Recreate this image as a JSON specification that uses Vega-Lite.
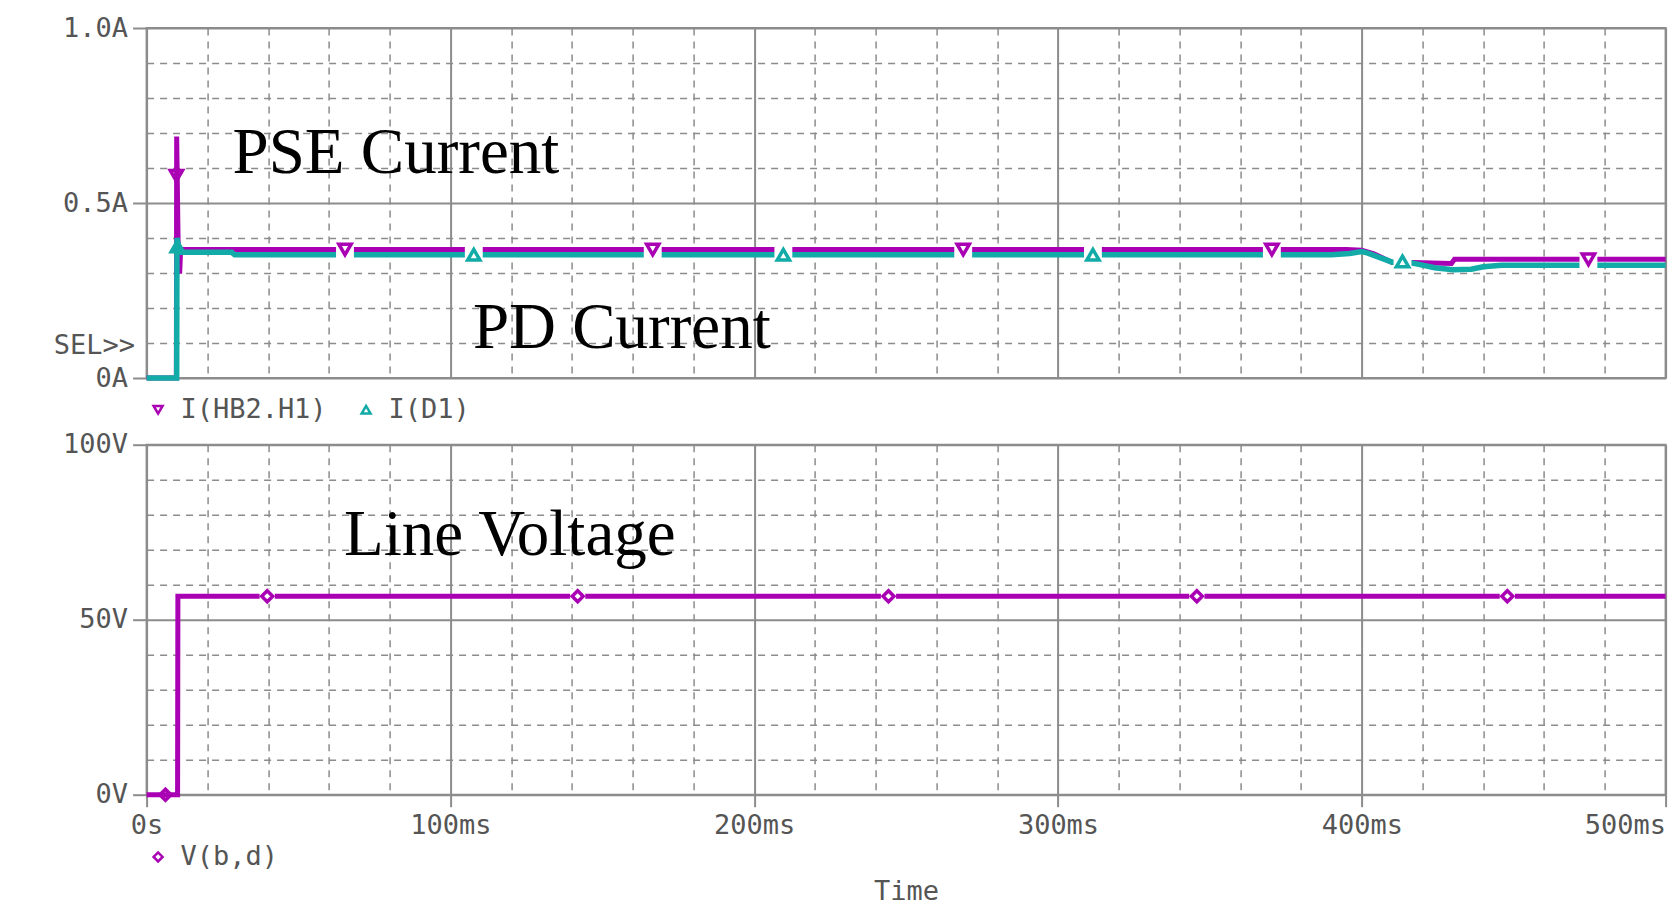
{
  "$schema": "https://vega.github.io/schema/vega-lite/v6.json",
  "background": "white",
  "autosize": {"type": "pad"},
  "padding": {"left": 51.6, "top": 13, "right": 5, "bottom": 5},
  "spacing": 66.7,
  "bounds": "flush",
  "resolve": {"scale": {"color": "independent", "shape": "independent"}},
  "config": {
    "view": {"stroke": "#8c8c8c", "strokeWidth": 2},
    "axis": {
      "labelFont": "DejaVu Sans Mono",
      "labelFontSize": 27,
      "labelColor": "#555555",
      "titleFont": "DejaVu Sans Mono",
      "titleFontSize": 27,
      "titleFontWeight": "normal",
      "titleColor": "#555555",
      "tickColor": "#8c8c8c",
      "tickWidth": 2,
      "labelOverlap": false
    },
    "legend": {
      "labelFont": "DejaVu Sans Mono",
      "labelFontSize": 27,
      "labelColor": "#555555"
    }
  },
  "datasets": {
    "pse": [
      {"t": 0, "i": 0}, {"t": 9.8, "i": 0}, {"t": 9.9, "i": 0.69}, {"t": 10.5, "i": 0.305},
      {"t": 10.9, "i": 0.305}, {"t": 11.2, "i": 0.367}, {"t": 395, "i": 0.367}, {"t": 400, "i": 0.365},
      {"t": 404, "i": 0.355}, {"t": 410, "i": 0.33}, {"t": 417, "i": 0.33}, {"t": 429.5, "i": 0.327},
      {"t": 430.5, "i": 0.339}, {"t": 500, "i": 0.339}
    ],
    "pd": [
      {"t": 0, "i": 0}, {"t": 9.9, "i": 0}, {"t": 10, "i": 0.4}, {"t": 10.8, "i": 0.36},
      {"t": 28, "i": 0.359}, {"t": 29, "i": 0.352}, {"t": 390, "i": 0.352}, {"t": 396, "i": 0.356},
      {"t": 400, "i": 0.361}, {"t": 402, "i": 0.357}, {"t": 410, "i": 0.331}, {"t": 414, "i": 0.333},
      {"t": 418, "i": 0.326}, {"t": 424, "i": 0.315}, {"t": 430, "i": 0.309}, {"t": 436, "i": 0.311},
      {"t": 440, "i": 0.318}, {"t": 446, "i": 0.322}, {"t": 500, "i": 0.322}
    ],
    "topMarks": [
      {"t": 9.8, "i": 0.578, "s": "I(HB2.H1)"},
      {"t": 65.3, "i": 0.367, "s": "I(HB2.H1)"},
      {"t": 166.6, "i": 0.367, "s": "I(HB2.H1)"},
      {"t": 268.8, "i": 0.367, "s": "I(HB2.H1)"},
      {"t": 370.4, "i": 0.367, "s": "I(HB2.H1)"},
      {"t": 474.6, "i": 0.339, "s": "I(HB2.H1)"},
      {"t": 10.1, "i": 0.376, "s": "I(D1)"},
      {"t": 107.7, "i": 0.352, "s": "I(D1)"},
      {"t": 209.6, "i": 0.352, "s": "I(D1)"},
      {"t": 311.5, "i": 0.352, "s": "I(D1)"},
      {"t": 413.4, "i": 0.333, "s": "I(D1)"}
    ],
    "topNotes": [
      {"t": 28.3, "i": 0.587, "label": "PSE Current"},
      {"t": 107.4, "i": 0.087, "label": "PD Current"}
    ],
    "vbd": [
      {"t": 0, "v": 0}, {"t": 10.2, "v": 0}, {"t": 10.3, "v": 56.7}, {"t": 500, "v": 56.7}
    ],
    "vMarks": [
      {"t": 6.2, "v": 0, "s": "V(b,d)"},
      {"t": 39.7, "v": 56.7, "s": "V(b,d)"},
      {"t": 141.9, "v": 56.7, "s": "V(b,d)"},
      {"t": 244.2, "v": 56.7, "s": "V(b,d)"},
      {"t": 345.7, "v": 56.7, "s": "V(b,d)"},
      {"t": 447.9, "v": 56.7, "s": "V(b,d)"}
    ],
    "bottomNotes": [
      {"t": 65, "v": 68.5, "label": "Line Voltage"}
    ]
  },
  "vconcat": [
    {
      "width": 1519,
      "height": 350,
      "layer": [
        {
          "data": {"name": "pse"},
          "mark": {"type": "line", "color": "#AA00B4", "strokeWidth": 5},
          "encoding": {
            "x": {
              "field": "t", "type": "quantitative",
              "scale": {"domain": [0, 500], "nice": false},
              "axis": {
                "values": [0,20,40,60,80,100,120,140,160,180,200,220,240,260,280,300,320,340,360,380,400,420,440,460,480,500],
                "tickCount": 30,
                "labels": false, "ticks": false, "domain": false, "title": null, "grid": true,
                "gridColor": "#8c8c8c",
                "gridDash": {"condition": {"test": "datum.value % 100 === 0", "value": []}, "value": [7, 6]},
                "gridWidth": {"condition": {"test": "datum.value % 100 === 0", "value": 2}, "value": 1.5}
              }
            },
            "y": {
              "field": "i", "type": "quantitative",
              "scale": {"domain": [0, 1], "nice": false},
              "axis": {
                "values": [0,0.1,0.2,0.3,0.4,0.5,0.6,0.7,0.8,0.9,1],
                "tickCount": 12,
                "domain": false, "grid": true,
                "gridColor": "#8c8c8c",
                "gridDash": {"condition": {"test": "datum.value == 0 || datum.value == 0.5 || datum.value == 1", "value": []}, "value": [7, 6]},
                "gridWidth": {"condition": {"test": "datum.value == 0 || datum.value == 0.5 || datum.value == 1", "value": 2}, "value": 1.5},
                "tickSize": {"condition": {"test": "datum.value == 0 || datum.value == 0.5 || datum.value == 1", "value": 14}, "value": 0},
                "labelPadding": 5,
                "labelExpr": "datum.value == 0 ? '0A' : datum.value == 0.5 ? '0.5A' : datum.value == 1 ? '1.0A' : ''",
                "title": "SEL>>", "titleAngle": 0, "titleAlign": "right", "titleBaseline": "middle",
                "titleX": -12, "titleY": 317
              }
            }
          }
        },
        {
          "data": {"name": "pd"},
          "mark": {"type": "line", "color": "#12ABA8", "strokeWidth": 5.5},
          "encoding": {
            "x": {"field": "t", "type": "quantitative"},
            "y": {"field": "i", "type": "quantitative"}
          }
        },
        {
          "data": {"name": "topMarks"},
          "transform": [{"filter": "datum.t > 20"}],
          "mark": {"type": "point", "shape": "square", "filled": true, "color": "white", "size": 320, "opacity": 1},
          "encoding": {
            "x": {"field": "t", "type": "quantitative"},
            "y": {"field": "i", "type": "quantitative"}
          }
        },
        {
          "data": {"name": "topMarks"},
          "mark": {"type": "point", "filled": false, "strokeWidth": 3.5, "size": 150, "opacity": 1},
          "encoding": {
            "x": {"field": "t", "type": "quantitative"},
            "y": {"field": "i", "type": "quantitative"},
            "color": {
              "field": "s", "type": "nominal",
              "scale": {"domain": ["I(HB2.H1)", "I(D1)"], "range": ["#AA00B4", "#12ABA8"]},
              "legend": {"title": null, "orient": "none", "legendX": -2, "legendY": 368, "direction": "horizontal",
                "symbolSize": 80, "symbolStrokeWidth": 2.5, "labelOffset": 8.8, "columnPadding": 25, "padding": 0}
            },
            "shape": {
              "field": "s", "type": "nominal",
              "scale": {"domain": ["I(HB2.H1)", "I(D1)"], "range": ["triangle-down", "triangle-up"]},
              "legend": {"title": null, "orient": "none", "legendX": -2, "legendY": 368, "direction": "horizontal",
                "symbolSize": 80, "symbolStrokeWidth": 2.5, "labelOffset": 8.8, "columnPadding": 25, "padding": 0}
            }
          }
        },
        {
          "data": {"name": "topNotes"},
          "mark": {"type": "text", "font": "Liberation Serif", "fontSize": 65, "align": "left", "baseline": "alphabetic", "color": "black"},
          "encoding": {
            "x": {"field": "t", "type": "quantitative"},
            "y": {"field": "i", "type": "quantitative"},
            "text": {"field": "label"}
          }
        }
      ]
    },
    {
      "width": 1519,
      "height": 350,
      "layer": [
        {
          "data": {"name": "vbd"},
          "mark": {"type": "line", "color": "#AA00B4", "strokeWidth": 5},
          "encoding": {
            "x": {
              "field": "t", "type": "quantitative",
              "scale": {"domain": [0, 500], "nice": false},
              "axis": {
                "values": [0,20,40,60,80,100,120,140,160,180,200,220,240,260,280,300,320,340,360,380,400,420,440,460,480,500],
                "tickCount": 30,
                "domain": false, "grid": true,
                "gridColor": "#8c8c8c",
                "gridDash": {"condition": {"test": "datum.value % 100 === 0", "value": []}, "value": [7, 6]},
                "gridWidth": {"condition": {"test": "datum.value % 100 === 0", "value": 2}, "value": 1.5},
                "tickSize": {"condition": {"test": "datum.value % 100 === 0", "value": 12}, "value": 0},
                "labelExpr": "datum.value == 0 ? '0s' : datum.value % 100 == 0 ? datum.value + 'ms' : ''",
                "labelFlush": false,
                "labelAlign": {"condition": {"test": "datum.value == 500", "value": "right"}, "value": "center"},
                "labelPadding": 6,
                "title": "Time", "titlePadding": 40
              }
            },
            "y": {
              "field": "v", "type": "quantitative",
              "scale": {"domain": [0, 100], "nice": false},
              "axis": {
                "values": [0,10,20,30,40,50,60,70,80,90,100],
                "tickCount": 12,
                "domain": false, "grid": true,
                "gridColor": "#8c8c8c",
                "gridDash": {"condition": {"test": "datum.value == 0 || datum.value == 50 || datum.value == 100", "value": []}, "value": [7, 6]},
                "gridWidth": {"condition": {"test": "datum.value == 0 || datum.value == 50 || datum.value == 100", "value": 2}, "value": 1.5},
                "tickSize": {"condition": {"test": "datum.value == 0 || datum.value == 50 || datum.value == 100", "value": 14}, "value": 0},
                "labelPadding": 5,
                "labelExpr": "datum.value == 0 ? '0V' : datum.value == 50 ? '50V' : datum.value == 100 ? '100V' : ''",
                "title": null
              }
            }
          }
        },
        {
          "data": {"name": "vMarks"},
          "transform": [{"filter": "datum.t > 20"}],
          "mark": {"type": "point", "shape": "square", "filled": true, "color": "white", "size": 230, "opacity": 1},
          "encoding": {
            "x": {"field": "t", "type": "quantitative"},
            "y": {"field": "v", "type": "quantitative"}
          }
        },
        {
          "data": {"name": "vMarks"},
          "mark": {"type": "point", "filled": false, "strokeWidth": 3.5, "size": 120, "opacity": 1},
          "encoding": {
            "x": {"field": "t", "type": "quantitative"},
            "y": {"field": "v", "type": "quantitative"},
            "color": {
              "field": "s", "type": "nominal",
              "scale": {"domain": ["V(b,d)"], "range": ["#AA00B4"]},
              "legend": {"title": null, "orient": "none", "legendX": -2, "legendY": 398.7, "direction": "horizontal",
                "symbolSize": 80, "symbolStrokeWidth": 2.5, "labelOffset": 8.8, "padding": 0}
            },
            "shape": {
              "field": "s", "type": "nominal",
              "scale": {"domain": ["V(b,d)"], "range": ["diamond"]},
              "legend": {"title": null, "orient": "none", "legendX": -2, "legendY": 398.7, "direction": "horizontal",
                "symbolSize": 80, "symbolStrokeWidth": 2.5, "labelOffset": 8.8, "padding": 0}
            }
          }
        },
        {
          "data": {"name": "bottomNotes"},
          "mark": {"type": "text", "font": "Liberation Serif", "fontSize": 65, "align": "left", "baseline": "alphabetic", "color": "black"},
          "encoding": {
            "x": {"field": "t", "type": "quantitative"},
            "y": {"field": "v", "type": "quantitative"},
            "text": {"field": "label"}
          }
        }
      ]
    }
  ]
}
